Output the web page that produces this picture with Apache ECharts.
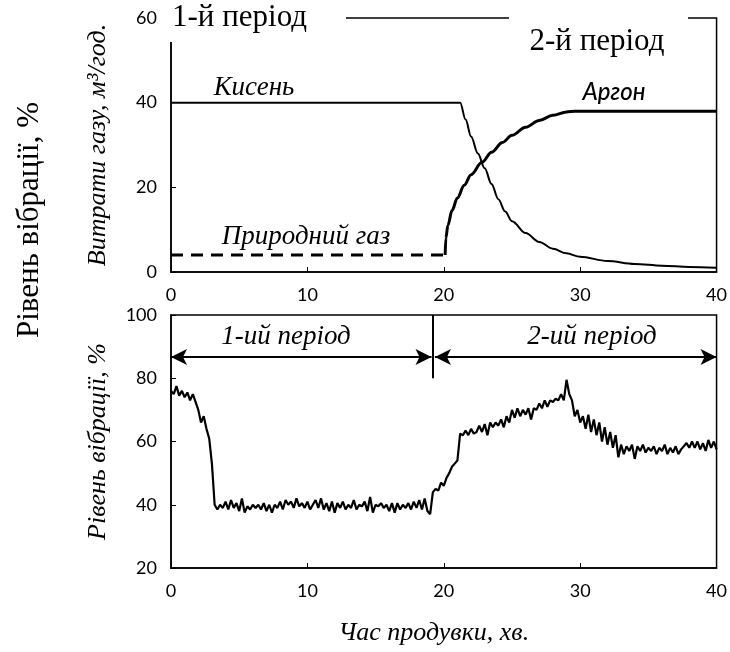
<!DOCTYPE html>
<html>
<head>
<meta charset="utf-8">
<script src="https://cdn.jsdelivr.net/npm/echarts@6/dist/echarts.min.js"></script>
<style>
  html, body { margin: 0; padding: 0; background: #fff; }
  #chart { width: 730px; height: 652px; }
</style>
</head>
<body>
<div id="chart"></div>
<script>
// верхній графік: витрати газу, м3/год
const oxygenFlow = [
  [0, 40], [21.2, 40], [21.6, 36], [22, 32], [22.5, 28], [23, 24.5], [23.5, 20.8],
  [24, 17.2], [24.5, 14.3], [25, 12], [26, 9.2], [27, 7.1], [28, 5.5], [29, 4.4],
  [30, 3.6], [32, 2.6], [34, 1.9], [36, 1.5], [38, 1.2], [40, 1]
];
const argonFlow = [
  [20.1, 4], [20.15, 8], [20.3, 11], [20.6, 14.5], [21, 17.5], [21.5, 20.5], [22, 23],
  [22.8, 25.9], [23.5, 28.3], [24.3, 30.6], [25, 32.3], [26, 34.2], [27, 35.8], [28, 37],
  [29, 37.8], [29.6, 38], [40, 38]
];
const naturalGasFlow = [[0, 4], [20.2, 4]];

// нижній графік: рівень вібрації, % (крок 0.2 хв)
const vibStep = 0.2;
const vibLevel = [
  76, 75, 77.5, 74.5, 76, 74, 75.5, 73, 75, 72.5,
  70, 66, 68, 64, 61, 53, 40, 38.5, 40, 39,
  41, 38.5, 41.5, 39, 40.5, 38, 42, 37.5, 39.5, 38.5,
  40, 39, 40, 38.5, 40.5, 38, 40, 37.5, 40, 39,
  41, 38.5, 41.5, 40, 41, 39, 42, 39.5, 40.5, 39,
  41, 38.5, 40, 41.5, 39, 42, 38.5, 40.5, 38, 41,
  37.5, 40.5, 39, 41, 38.5, 40, 39, 41.5, 38.5, 40,
  39.5, 41, 38, 42.5, 37.5, 40, 39.5, 40.5, 39, 40,
  38, 40.5, 37.5, 40.5, 38.5, 40, 39, 40.5, 38.5, 41,
  39, 41.5, 38.5, 42, 38, 37, 44, 45, 44.5, 47,
  46, 48.5, 50, 52, 53, 54, 62.5, 62, 63.5, 62,
  64, 62.5, 63, 65, 63, 65.5, 62, 66, 64.5, 66,
  65, 67, 64.5, 68, 66, 70, 67.5, 70.5, 68, 70,
  68.5, 70.5, 67, 70.5, 70, 72, 70.5, 73, 71, 73,
  72.5, 73.5, 73, 75, 73, 79.5, 75, 73, 68, 70,
  66, 68, 64, 68.5, 63, 67, 62, 66, 60, 64.5,
  59, 63, 58, 62, 55, 59, 56, 58.5, 57, 59,
  54.5, 58.5, 57, 59, 56.5, 58, 57, 58.5, 56, 58,
  57, 59, 56, 58, 56.5, 58.5, 56, 57.5, 58.5, 59.5,
  58, 60, 58, 60, 57.5, 59.5, 57, 60.5, 58, 60,
  57.5
];
const periodSplit = 19.2;
const arrowLevel = 86.7;

const vibData = vibLevel.map((v, i) => [+(i * vibStep).toFixed(1), v]);

const tickFont = { color: '#000', fontFamily: 'Lato', fontSize: 18 };
const nameFont = { fontFamily: 'Liberation Serif', fontStyle: 'italic', fontSize: 26, color: '#000' };
const serifItalic = 'italic 27px "Liberation Serif"';

const chart = echarts.init(document.getElementById('chart'));

const axisCommon = {
  axisLine: { show: true, lineStyle: { color: '#000', width: 1.5 } },
  axisTick: { show: true, inside: true, length: 5, lineStyle: { color: '#000', width: 1 } },
  splitLine: { show: false },
  axisLabel: Object.assign({ margin: 14 }, tickFont)
};

chart.setOption({
  animation: false,
  backgroundColor: '#fff',
  grid: [
    { left: 171, right: 10, top: 18, height: 254, show: true, borderColor: '#000', borderWidth: 1.5, backgroundColor: 'transparent' },
    { left: 171, right: 10, top: 315, height: 253, show: true, borderColor: '#000', borderWidth: 1.5, backgroundColor: 'transparent' }
  ],
  xAxis: [
    Object.assign({}, axisCommon, { gridIndex: 0, type: 'value', min: 0, max: 40, interval: 10 }),
    Object.assign({}, axisCommon, {
      gridIndex: 1, type: 'value', min: 0, max: 40, interval: 10,
      name: 'Час продувки, хв.', nameLocation: 'middle', nameGap: 52,
      nameTextStyle: Object.assign({ padding: [0, 20, 0, 0] }, nameFont)
    })
  ],
  yAxis: [
    Object.assign({}, axisCommon, {
      gridIndex: 0, type: 'value', min: 0, max: 60, interval: 20,
      name: 'Витрати газу, м³/год.', nameLocation: 'middle', nameGap: 60,
      nameTextStyle: nameFont
    }),
    Object.assign({}, axisCommon, {
      gridIndex: 1, type: 'value', min: 20, max: 100, interval: 20,
      name: 'Рівень вібрації, %', nameLocation: 'middle', nameGap: 60,
      nameTextStyle: nameFont
    })
  ],
  series: [
    {
      name: 'Кисень', type: 'line', xAxisIndex: 0, yAxisIndex: 0, data: oxygenFlow,
      showSymbol: false, smooth: 0.35, smoothMonotone: 'x',
      lineStyle: { color: '#000', width: 2 }
    },
    {
      name: 'Аргон', type: 'line', xAxisIndex: 0, yAxisIndex: 0, data: argonFlow,
      showSymbol: false, smooth: 0.35, smoothMonotone: 'x',
      lineStyle: { color: '#000', width: 3 }
    },
    {
      name: 'Природний газ', type: 'line', xAxisIndex: 0, yAxisIndex: 0, data: naturalGasFlow,
      showSymbol: false,
      lineStyle: { color: '#000', width: 3, type: [12, 8] }
    },
    {
      name: 'Рівень вібрації', type: 'line', xAxisIndex: 1, yAxisIndex: 1, data: vibData,
      showSymbol: false,
      lineStyle: { color: '#000', width: 2.2 },
      markLine: {
        silent: true,
        label: { show: false },
        lineStyle: { color: '#000', width: 2, type: 'solid' },
        symbolSize: [12, 16],
        data: [
          [{ coord: [0, arrowLevel], symbol: 'arrow' }, { coord: [periodSplit - 0.1, arrowLevel], symbol: 'arrow' }],
          [{ coord: [periodSplit + 0.15, arrowLevel], symbol: 'arrow' }, { coord: [40, arrowLevel], symbol: 'arrow' }],
          [{ coord: [periodSplit, 100], symbol: 'none' }, { coord: [periodSplit, 80], symbol: 'none' }]
        ]
      }
    }
  ],
  graphic: [
    // білі плашки під заголовками періодів (розривають рамку)
    { type: 'rect', z: 50, shape: { x: 165, y: 0, width: 181, height: 42 }, style: { fill: '#fff' } },
    { type: 'rect', z: 50, shape: { x: 509, y: 8, width: 179, height: 56 }, style: { fill: '#fff' } },
    { type: 'text', z: 60, x: 172, y: 18, style: { text: '1-й період', font: '31px "Liberation Serif"', fill: '#000', align: 'left', verticalAlign: 'middle' } },
    { type: 'text', z: 60, x: 597, y: 42, style: { text: '2-й період', font: '31px "Liberation Serif"', fill: '#000', align: 'center', verticalAlign: 'middle' } },
    { type: 'text', z: 60, x: 30, y: 220, rotation: Math.PI / 2, style: { text: 'Рівень вібрації, %', font: '31px "Liberation Serif"', fill: '#000', align: 'center', verticalAlign: 'middle' } },
    { type: 'text', z: 60, x: 254, y: 88, style: { text: 'Кисень', font: serifItalic, fill: '#000', align: 'center', verticalAlign: 'middle' } },
    { type: 'text', z: 60, x: 614, y: 92, style: { text: 'Аргон', font: 'italic 500 24px Lato', fill: '#000', align: 'center', verticalAlign: 'middle' } },
    { type: 'text', z: 60, x: 306, y: 237, style: { text: 'Природний газ', font: serifItalic, fill: '#000', align: 'center', verticalAlign: 'middle' } },
    { type: 'text', z: 60, x: 286, y: 337, style: { text: '1-ий період', font: serifItalic, fill: '#000', align: 'center', verticalAlign: 'middle' } },
    { type: 'text', z: 60, x: 592, y: 337, style: { text: '2-ий період', font: serifItalic, fill: '#000', align: 'center', verticalAlign: 'middle' } }
  ]
});
</script>
</body>
</html>
